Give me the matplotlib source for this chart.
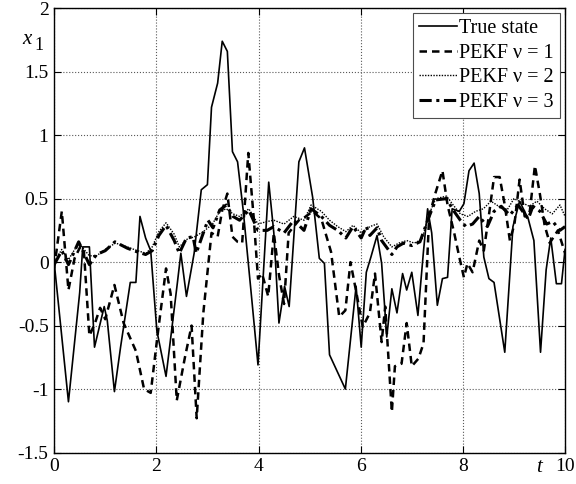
import numpy as np
import matplotlib
matplotlib.use('Agg')
from matplotlib import pyplot as plt

plt.rcParams['font.family'] = ['Liberation Serif', 'DejaVu Serif']
plt.rcParams['mathtext.fontset'] = 'stix'

# true state
t_true = [0, 0.28, 0.5, 0.56, 0.69, 0.79, 0.98, 1.04, 1.18, 1.30, 1.49, 1.60, 1.68, 1.79, 1.89,
          2.01, 2.19, 2.41, 2.48, 2.59, 2.74, 2.88, 3.0, 3.08, 3.20, 3.29, 3.39, 3.49, 3.59, 3.70,
          3.87, 3.99, 4.20, 4.30, 4.40, 4.51, 4.60, 4.79, 4.90, 5.06, 5.19, 5.29, 5.39, 5.70, 5.91,
          6.01, 6.11, 6.20, 6.32, 6.41, 6.51, 6.61, 6.71, 6.82, 6.90, 7.0, 7.12, 7.23, 7.31, 7.39,
          7.50, 7.60, 7.70, 7.79, 7.93, 8.02, 8.12, 8.22, 8.32, 8.41, 8.51, 8.61, 8.82, 8.98, 9.11,
          9.28, 9.39, 9.52, 9.63, 9.72, 9.83, 9.93, 10.0]
x_true = [0.0, -1.10, -0.24, 0.12, 0.12, -0.67, -0.35, -0.46, -1.02, -0.67, -0.16, -0.16, 0.36, 0.19, 0.09,
          -0.54, -0.90, -0.17, 0.07, -0.27, 0.07, 0.57, 0.61, 1.22, 1.41, 1.74, 1.66, 0.87, 0.79, 0.41,
          -0.30, -0.81, 0.63, 0.23, -0.48, -0.19, -0.35, 0.79, 0.90, 0.51, 0.03, -0.01, -0.73, -1.0, -0.19,
          -0.67, -0.08, 0.04, 0.21, -0.01, -0.59, -0.21, -0.40, -0.09, -0.22, -0.08, -0.42, 0.09, 0.42, 0.23,
          -0.34, -0.13, -0.12, 0.42, 0.40, 0.46, 0.72, 0.78, 0.54, 0.04, -0.13, -0.16, -0.71, 0.28, 0.48,
          0.34, 0.17, -0.71, -0.06, 0.19, -0.17, -0.17, 0.1]

# PEKF nu = 1
t_v1 = [0, 0.15, 0.28, 0.40, 0.51, 0.58, 0.69, 0.80, 0.90, 1.0, 1.18, 1.36, 1.60, 1.76, 1.89,
        2.02, 2.19, 2.28, 2.40, 2.56, 2.69, 2.79, 2.92, 3.08, 3.20, 3.29, 3.39, 3.49, 3.59, 3.68,
        3.80, 3.91, 3.99, 4.07, 4.19, 4.30, 4.40, 4.50, 4.59, 4.79, 4.93, 5.06, 5.23, 5.42, 5.58,
        5.70, 5.80, 5.92, 6.04, 6.18, 6.28, 6.41, 6.48, 6.61, 6.67, 6.80, 6.90, 7.0, 7.13, 7.23,
        7.34, 7.46, 7.60, 7.70, 7.83, 7.93, 8.02, 8.09, 8.19, 8.32, 8.41, 8.51, 8.61, 8.72, 8.82,
        8.92, 9.01, 9.11, 9.21, 9.31, 9.41, 9.51, 9.60, 9.70, 9.86, 10.0]
x_v1 = [-0.05, 0.40, -0.22, 0.03, 0.12, 0.10, -0.58, -0.48, -0.36, -0.45, -0.18, -0.48, -0.70, -1.0, -1.03,
        -0.59, -0.05, -0.25, -1.09, -0.75, -0.50, -1.23, -0.40, 0.23, 0.20, 0.41, 0.54, 0.20, 0.16, 0.15,
        0.86, 0.33, -0.13, -0.09, -0.27, 0.23, -0.10, -0.33, 0.23, 0.33, 0.36, 0.40, 0.34, 0.08, -0.43,
        -0.38, 0.0, -0.25, -0.51, -0.40, -0.09, -0.63, -0.35, -1.18, -0.82, -0.80, -0.48, -0.82, -0.76, -0.64,
        0.36, 0.54, 0.72, 0.45, 0.23, 0.04, -0.12, -0.01, -0.08, 0.17, 0.09, 0.37, 0.67, 0.67, 0.45,
        0.17, 0.30, 0.65, 0.36, 0.40, 0.76, 0.53, 0.29, 0.15, 0.25, 0.07]

# PEKF nu = 2
t_v2 = [0, 0.15, 0.28, 0.48, 0.69, 0.83, 1.0, 1.2, 1.43, 1.63, 1.8, 1.92, 2.05, 2.19, 2.35, 2.45,
        2.6, 2.75, 2.92, 3.1, 3.24, 3.37, 3.5, 3.63, 3.81, 3.99, 4.17, 4.3, 4.5, 4.69, 4.89, 5.03,
        5.23, 5.39, 5.55, 5.71, 5.85, 6.01, 6.18, 6.32, 6.45, 6.61, 6.75, 6.9, 7.05, 7.2, 7.34, 7.47,
        7.68, 7.81, 7.95, 8.1, 8.25, 8.4, 8.55, 8.7, 8.85, 9.0, 9.15, 9.3, 9.45, 9.6, 9.75, 9.9, 10.0]
x_v2 = [0.0, 0.1, 0.02, 0.15, 0.05, 0.05, 0.1, 0.15, 0.12, 0.09, 0.07, 0.12, 0.24, 0.31, 0.22, 0.12,
        0.18, 0.2, 0.24, 0.3, 0.4, 0.42, 0.38, 0.36, 0.42, 0.3, 0.32, 0.33, 0.3, 0.36, 0.33, 0.45,
        0.4, 0.33, 0.28, 0.24, 0.29, 0.23, 0.28, 0.3, 0.2, 0.12, 0.15, 0.17, 0.15, 0.18, 0.38, 0.5,
        0.52, 0.45, 0.38, 0.36, 0.4, 0.42, 0.48, 0.44, 0.4, 0.5, 0.47, 0.44, 0.48, 0.42, 0.38, 0.45, 0.36]

# PEKF nu = 3
t_v3 = [0, 0.15, 0.28, 0.48, 0.69, 0.83, 1.0, 1.19, 1.43, 1.63, 1.79, 1.92, 2.05, 2.19, 2.35, 2.45,
        2.59, 2.72, 2.78, 2.92, 3.01, 3.11, 3.24, 3.37, 3.50, 3.63, 3.81, 3.99, 4.17, 4.30, 4.50, 4.69,
        4.89, 5.03, 5.23, 5.39, 5.55, 5.71, 5.85, 6.01, 6.11, 6.18, 6.32, 6.41, 6.61, 6.71, 6.84, 7.0,
        7.16, 7.34, 7.47, 7.68, 7.81, 7.95, 8.06, 8.19, 8.32, 8.48, 8.61, 8.75, 8.92, 9.08, 9.28, 9.37,
        9.51, 9.64, 9.76, 9.90, 10.0]
x_v3 = [-0.02, 0.09, -0.02, 0.16, -0.02, 0.06, 0.09, 0.16, 0.11, 0.08, 0.06, 0.09, 0.21, 0.29, 0.17, 0.07,
        0.19, 0.20, 0.07, 0.23, 0.33, 0.27, 0.41, 0.45, 0.36, 0.33, 0.41, 0.25, 0.25, 0.28, 0.23, 0.33,
        0.25, 0.42, 0.36, 0.29, 0.25, 0.19, 0.28, 0.19, 0.28, 0.21, 0.27, 0.17, 0.06, 0.12, 0.15, 0.13,
        0.16, 0.36, 0.49, 0.50, 0.41, 0.33, 0.28, 0.30, 0.36, 0.28, 0.40, 0.44, 0.37, 0.45, 0.34, 0.44,
        0.40, 0.30, 0.32, 0.25, 0.28]

xticks = [0, 2, 4, 6, 8, 10]
yticks = [-1.5, -1, -0.5, 0, 0.5, 1, 1.5, 2]
ytick_labels = ['-1.5', '-1', '-0.5', '0', '0.5', '1', '1.5', '2']

fig = plt.figure(figsize=(5.76, 4.84), dpi=100)
ax = fig.add_axes([0.094, 0.065, 0.887, 0.918])

ax.plot(t_true, x_true, color='k', lw=1.2, ls='-', label='True state')
ax.plot(t_v1, x_v1, color='k', lw=1.8, ls=(0, (3, 2)), label='PEKF \u03bd = 1')
ax.plot(t_v2, x_v2, color='k', lw=1.0, ls=(0, (1, 1)), label='PEKF \u03bd = 2')
ax.plot(t_v3, x_v3, color='k', lw=2.2, ls=(0, (4, 1.5, 1, 1.5)), label='PEKF \u03bd = 3')

ax.set_xlim(0, 10)
ax.set_ylim(-1.5, 2)
ax.set_xticks(xticks)
ax.set_xticklabels([str(v) for v in xticks])
ax.set_yticks(yticks)
ax.set_yticklabels(ytick_labels)
ax.tick_params(direction='in', top=True, right=True, labelsize=14, length=5, width=0.8, pad=4)
ax.grid(True, ls=':', lw=0.8, color='0.35')
for s in ax.spines.values():
    s.set_linewidth(1.0)

leg = ax.legend(loc='upper right', fontsize=14.5, handlelength=1.9, handletextpad=0.1,
                borderpad=0.3, labelspacing=0.27, borderaxespad=0.25, fancybox=False,
                framealpha=1, edgecolor='0.3')
leg.get_frame().set_linewidth(0.8)

fig.text(22 / 576, 1 - 40 / 484, 'x', fontsize=15, style='italic', ha='left', va='center')
fig.text(34 / 576, 1 - 45 / 484, '1', fontsize=13, ha='left', va='center')
fig.text(539 / 576, 1 - 467 / 484, 't', fontsize=15, style='italic', ha='center', va='center')

plt.savefig('out.png', dpi=100)
